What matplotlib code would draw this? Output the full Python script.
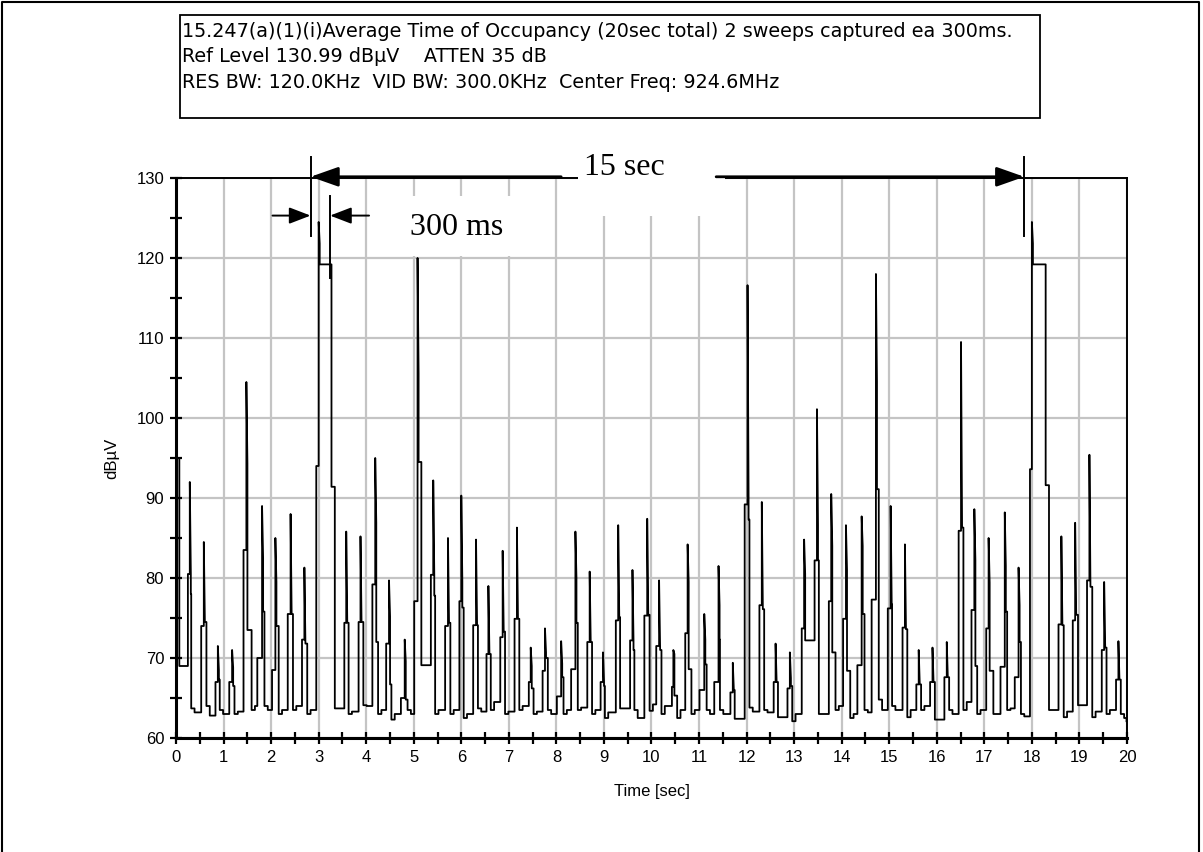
import matplotlib.pyplot as plt
from matplotlib.ticker import MultipleLocator
from matplotlib.patches import Rectangle

# one row per burst: rise time, spike time, fall time [s]
t_up = [0.04, 0.25, 0.53, 0.83, 1.12, 1.42, 1.71, 2.02, 2.35, 2.65,
        2.95, 3.54, 3.84, 4.13, 4.42, 4.73, 5.01, 5.36, 5.66, 5.96,
        6.25, 6.53, 6.82, 7.12, 7.42, 7.71, 8.01, 8.31, 8.65, 8.93,
        9.25, 9.55, 9.85, 10.10, 10.43, 10.71, 11.01, 11.32, 11.66, 11.96,
        12.27, 12.57, 12.86, 13.16, 13.43, 13.73, 14.03, 14.33, 14.63, 14.97,
        15.28, 15.57, 15.86, 16.16, 16.46, 16.73, 17.04, 17.34, 17.64, 17.96,
        18.56, 18.86, 19.16, 19.47, 19.77]
t_pk = [0.04, 0.29, 0.585, 0.88, 1.18, 1.48, 1.81, 2.09, 2.41, 2.70,
        3.00, 3.58, 3.88, 4.19, 4.48, 4.81, 5.08, 5.41, 5.72, 6.00,
        6.31, 6.57, 6.87, 7.17, 7.46, 7.76, 8.10, 8.40, 8.70, 8.98,
        9.30, 9.60, 9.91, 10.16, 10.46, 10.76, 11.11, 11.41, 11.71, 12.02,
        12.32, 12.61, 12.91, 13.21, 13.48, 13.78, 14.09, 14.42, 14.72, 15.03,
        15.33, 15.62, 15.91, 16.21, 16.51, 16.79, 17.09, 17.43, 17.72, 18.00,
        18.62, 18.91, 19.21, 19.52, 19.82]
t_dn = [0.07, 0.32, 0.64, 0.92, 1.23, 1.59, 1.86, 2.16, 2.46, 2.76,
        3.27, 3.63, 3.94, 4.25, 4.53, 4.87, 5.16, 5.45, 5.77, 6.05,
        6.35, 6.62, 6.92, 7.22, 7.52, 7.82, 8.15, 8.45, 8.75, 9.02,
        9.34, 9.64, 9.96, 10.21, 10.54, 10.84, 11.16, 11.44, 11.75, 12.06,
        12.37, 12.66, 12.96, 13.25, 13.52, 13.87, 14.18, 14.48, 14.78, 15.06,
        15.38, 15.67, 15.96, 16.26, 16.56, 16.85, 17.19, 17.48, 17.77, 18.29,
        18.67, 18.97, 19.27, 19.57, 19.87]

# levels [dBuV]: after rise, spike top, dense part top, after spike, after fall, later baseline
lvl_rise = [95.0, 80.5, 74.0, 67.0, 67.0, 83.5, 70.0, 68.5, 75.5, 72.3,
            94.0, 74.4, 74.5, 79.2, 71.8, 65.0, 77.1, 80.4, 74.0, 77.1,
            74.1, 70.5, 72.6, 74.9, 67.0, 68.4, 65.2, 68.6, 72.0, 67.0,
            74.7, 72.2, 75.3, 71.5, 66.4, 73.1, 66.0, 67.0, 65.7, 89.2,
            76.6, 67.0, 66.2, 73.7, 82.2, 77.1, 74.9, 69.1, 77.3, 76.2,
            73.8, 66.7, 67.0, 67.6, 85.9, 76.0, 73.7, 68.9, 67.6, 93.6,
            74.2, 74.7, 79.7, 71.0, 67.3]
lvl_peak = [95.0, 92.0, 84.5, 71.5, 71.0, 104.5, 89.0, 85.0, 88.0, 81.3,
            124.5, 85.8, 85.2, 95.0, 79.7, 72.3, 120.0, 92.2, 85.0, 90.3,
            84.8, 79.0, 83.4, 86.3, 71.3, 73.7, 72.1, 85.8, 80.8, 70.7,
            86.6, 81.0, 87.4, 79.7, 71.0, 84.2, 75.5, 81.5, 69.4, 116.6,
            89.5, 71.8, 70.7, 84.8, 101.1, 90.5, 86.6, 87.7, 118.0, 89.0,
            84.2, 71.0, 71.3, 72.0, 109.5, 88.6, 85.0, 88.2, 81.3, 124.5,
            85.2, 86.9, 95.4, 79.5, 72.1]
lvl_dense = [95.0, 80.5, 74.5, 68.5, 68.8, 94.3, 82.5, 79.5, 75.5, 72.3,
             121.8, 74.4, 74.5, 86.9, 75.2, 69.6, 105.6, 80.4, 74.4, 79.5,
             74.1, 70.5, 73.3, 74.9, 69.0, 70.7, 69.3, 80.0, 72.0, 67.0,
             75.1, 72.2, 75.3, 71.5, 70.5, 79.5, 72.3, 76.6, 66.0, 90.2,
             76.6, 67.0, 67.5, 80.5, 86.6, 84.0, 81.0, 84.0, 104.5, 76.7,
             73.6, 66.7, 67.0, 67.6, 86.3, 82.2, 79.4, 81.5, 76.6, 121.8,
             74.2, 75.4, 80.0, 71.3, 67.3]
lvl_after = [95.0, 78.0, 74.5, 67.3, 66.5, 73.5, 75.8, 74.0, 75.5, 71.8,
             119.2, 74.4, 74.5, 72.0, 66.7, 64.8, 94.5, 77.8, 74.4, 76.3,
             74.1, 70.5, 73.3, 74.9, 66.2, 70.0, 67.6, 74.4, 72.0, 66.5,
             75.1, 71.0, 75.4, 71.0, 65.3, 68.6, 69.2, 72.3, 66.0, 87.3,
             76.1, 67.0, 66.5, 72.2, 82.2, 70.7, 68.4, 75.5, 91.1, 76.7,
             73.6, 66.7, 67.0, 67.6, 86.3, 69.0, 68.4, 75.8, 72.0, 119.2,
             74.1, 75.4, 78.9, 71.3, 67.3]
lvl_fall = [69.0, 63.7, 64.0, 63.5, 63.0, 63.5, 64.0, 63.0, 63.5, 63.0,
            91.4, 63.0, 64.1, 63.0, 62.3, 63.5, 69.1, 63.0, 63.0, 62.5,
            63.7, 63.5, 63.0, 63.5, 63.0, 63.5, 63.0, 63.5, 63.0, 62.5,
            63.7, 63.5, 63.4, 63.0, 62.5, 63.0, 63.5, 63.5, 62.4, 63.8,
            63.5, 62.6, 62.1, 72.2, 63.0, 63.5, 62.5, 63.5, 64.8, 64.0,
            62.6, 63.5, 62.3, 63.5, 63.5, 63.0, 63.0, 63.5, 63.0, 91.6,
            62.6, 64.1, 62.6, 63.0, 63.0]
lvl_base = [69.0, 63.2, 62.8, 63.0, 63.3, 64.0, 63.5, 63.5, 64.0, 63.5,
            63.7, 63.3, 64.0, 63.5, 63.0, 63.0, 69.1, 63.5, 63.5, 63.0,
            63.3, 64.5, 63.3, 64.0, 63.3, 63.0, 63.5, 63.8, 63.5, 63.2,
            63.7, 62.5, 64.2, 64.0, 63.5, 63.5, 63.0, 63.0, 62.4, 63.3,
            63.2, 62.6, 63.0, 72.2, 63.0, 64.0, 63.0, 63.2, 63.5, 63.5,
            63.5, 64.0, 62.3, 63.0, 64.5, 63.5, 63.0, 63.7, 62.7, 63.5,
            63.3, 64.1, 63.3, 63.5, 62.5]
end_time = 20.0
end_level = 62.1

header = ["15.247(a)(1)(i)Average Time of Occupancy (20sec total) 2 sweeps captured ea 300ms.",
          "Ref Level 130.99 dB\u00b5V    ATTEN 35 dB",
          "RES BW: 120.0KHz  VID BW: 300.0KHz  Center Freq: 924.6MHz"]

# build the zero-span trace as a step polyline
dt = 0.022
xs, ys = [], []
for i in range(len(t_up)):
    if i > 0:
        xs.append(t_up[i])
        ys.append(lvl_base[i - 1])
    xs += [t_up[i], t_pk[i], t_pk[i], t_pk[i] + dt, t_pk[i] + dt,
           t_dn[i], t_dn[i], t_dn[i] + 0.07, t_dn[i] + 0.07]
    ys += [lvl_rise[i], lvl_rise[i], lvl_peak[i], lvl_dense[i], lvl_after[i],
           lvl_after[i], lvl_fall[i], lvl_fall[i], lvl_base[i]]
xs += [end_time - 0.01, end_time - 0.01]
ys += [lvl_base[-1], end_level]

plt.rcParams['font.family'] = ['Liberation Sans', 'DejaVu Sans']
fig = plt.figure(figsize=(12.03, 8.52), dpi=100)
ax = fig.add_axes([0.1463, 0.1338, 0.7905, 0.6573])

ax.plot(xs, ys, color='black', lw=1.3, zorder=3)

ax.set_xlim(0, 20)
ax.set_ylim(60, 130)
ax.xaxis.set_major_locator(MultipleLocator(1))
ax.xaxis.set_minor_locator(MultipleLocator(0.5))
ax.yaxis.set_major_locator(MultipleLocator(10))
ax.yaxis.set_minor_locator(MultipleLocator(5))
ax.grid(True, which='major', color='#c4c4c4', lw=1.6, zorder=0)
ax.tick_params(which='both', direction='inout', length=9, width=1.6, labelsize=12, pad=4)
for s in ['left', 'bottom']:
    ax.spines[s].set_linewidth(2.2)
for s in ['top', 'right']:
    ax.spines[s].set_linewidth(1.4)
ax.set_xlabel('Time [sec]', fontsize=12, labelpad=14)
ax.set_ylabel('dB\u00b5V', fontsize=12, labelpad=12)

# measurement setup box
fig.patches.append(Rectangle((0.1496, 0.8615), 0.7153, 0.121, transform=fig.transFigure,
                             fill=False, ec='black', lw=1.3))
for k, line in enumerate(header):
    fig.text(0.1515, 0.9636 - k * 0.0305, line, fontsize=13.8, family='DejaVu Sans',
             va='center', ha='left')

# white label areas over the grid
ax.add_patch(Rectangle((8.45, 125.3), 3.1, 5.2, fc='white', ec='none', zorder=4, clip_on=False))
ax.add_patch(Rectangle((4.3, 120.2), 3.6, 7.6, fc='white', ec='none', zorder=4, clip_on=False))

serif = dict(family='Liberation Serif', fontsize=23, zorder=6)
ax.text(9.42, 131.3, '15 sec', ha='center', va='center', **serif)
ax.text(5.91, 123.8, '300 ms', ha='center', va='center', **serif)

# 15 sec span markers
arrow = dict(arrowstyle='-|>,head_length=1.7,head_width=0.6', color='black', lw=2.0,
             shrinkA=0, shrinkB=0)
ax.annotate('', xy=(2.83, 130.15), xytext=(8.1, 130.15), arrowprops=arrow,
            annotation_clip=False, zorder=6)
ax.annotate('', xy=(17.84, 130.15), xytext=(11.36, 130.15), arrowprops=arrow,
            annotation_clip=False, zorder=6)
ax.plot([2.83, 2.83], [132.6, 122.7], color='black', lw=1.4, clip_on=False, zorder=6)
ax.plot([17.84, 17.84], [132.6, 122.8], color='black', lw=1.4, clip_on=False, zorder=6)

# 300 ms markers
small = dict(arrowstyle='-|>,head_length=1.3,head_width=0.5', color='black', lw=1.4,
             shrinkA=0, shrinkB=0)
ax.annotate('', xy=(2.83, 125.3), xytext=(2.03, 125.3), arrowprops=small, zorder=6)
ax.annotate('', xy=(3.24, 125.3), xytext=(4.06, 125.3), arrowprops=small, zorder=6)
ax.plot([3.23, 3.23], [127.75, 117.5], color='black', lw=1.4, zorder=6)

# outer frame
fig.lines.append(plt.Line2D([0.002, 0.002, 0.997, 0.997], [0.0, 0.998, 0.998, 0.0],
                            transform=fig.transFigure, color='black', lw=1.5))

fig.savefig('out.png', dpi=100)
